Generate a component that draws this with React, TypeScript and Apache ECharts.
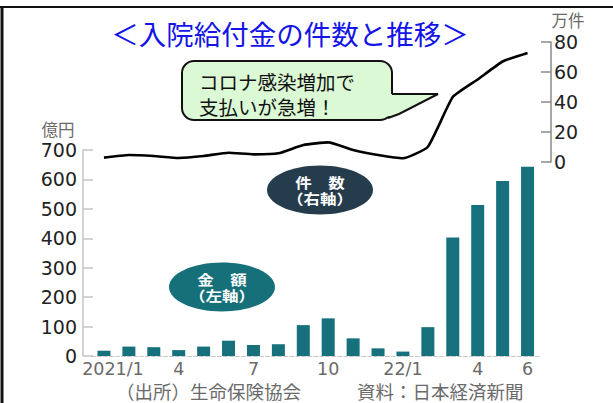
import React, { useEffect, useRef } from "react";
import * as echarts from "echarts";

const months = [
  "2021/1", "2021/2", "2021/3", "2021/4", "2021/5", "2021/6", "2021/7", "2021/8", "2021/9",
  "2021/10", "2021/11", "2021/12", "2022/1", "2022/2", "2022/3", "2022/4", "2022/5", "2022/6",
];
const tickLabels: Record<number, string> = { 0: "2021/1", 3: "4", 6: "7", 9: "10", 12: "22/1", 15: "4", 17: "6" };
const amounts = [18, 32, 30, 20, 32, 52, 37, 40, 105, 128, 60, 26, 15, 98, 403, 513, 595, 643];
const counts = [2.9, 4.7, 4.0, 2.7, 4.0, 6.2, 5.1, 5.8, 11.3, 13.1, 8.0, 4.7, 2.5, 10.2, 43.3, 55, 67, 72.7];

const CJK = '"Noto Sans CJK JP", "Noto Sans", sans-serif';
const NUM = '"DejaVu Sans", sans-serif';

function badge(cx: number, cy: number, fill: string, line1: string, line2: string) {
  return [
    { type: "ellipse", shape: { cx, cy, rx: 53, ry: 24.5 }, style: { fill } },
    {
      type: "text",
      x: cx,
      y: cy,
      scaleY: 0.85,
      style: {
        text: line1 + "\n" + line2,
        fontFamily: CJK,
        fontSize: 16.5,
        lineHeight: 19,
        fontWeight: "bold",
        fill: "#fff",
        align: "center",
        verticalAlign: "middle",
      },
    },
  ];
}

export default function App() {
  const ref = useRef<HTMLDivElement>(null);
  useEffect(() => {
    if (!ref.current) return;
    const chart = echarts.init(ref.current, undefined, { renderer: "svg" });
    const gridLeft = 91.5;
    const gridRight = 73;
    chart.setOption({
      animation: false,
      backgroundColor: "#ffffff",
      grid: [
        { left: gridLeft, right: gridRight, top: 150, bottom: 47 },
        { left: gridLeft, right: gridRight, top: 42, height: 120 },
      ],
      xAxis: [
        {
          type: "category",
          gridIndex: 0,
          data: months,
          boundaryGap: true,
          axisTick: { show: false },
          axisLine: { show: true, lineStyle: { color: "#c8c8c8", type: "dashed", width: 1 } },
          axisLabel: {
            interval: (i: number) => tickLabels[i] !== undefined,
            formatter: (_v: string, i: number) => (i === 0 ? "{first|" + tickLabels[i] + "}" : tickLabels[i] ?? ""),
            color: "#6a6a6a",
            fontFamily: NUM,
            fontSize: 17.5,
            lineHeight: 17,
            margin: 4,
            rich: { first: { padding: [0, 0, 0, 18], color: "#6a6a6a", fontFamily: NUM, fontSize: 17.5, lineHeight: 17 } },
          },
        },
        {
          type: "category",
          gridIndex: 1,
          data: months,
          boundaryGap: true,
          show: false,
        },
      ],
      yAxis: [
        {
          type: "value",
          gridIndex: 0,
          min: 0,
          max: 700,
          interval: 100,
          offset: 8.5,
          splitLine: { show: false },
          axisLine: { show: true, lineStyle: { color: "#c4c4c4", width: 1.5 } },
          axisTick: { show: true, inside: true, length: 10, lineStyle: { color: "#c4c4c4", width: 1.5 } },
          axisLabel: { color: "#222", fontFamily: NUM, fontSize: 19, margin: 6 },
        },
        {
          type: "value",
          gridIndex: 1,
          position: "right",
          min: 0,
          max: 80,
          interval: 20,
          offset: 11,
          splitLine: { show: false },
          axisLine: { show: true, lineStyle: { color: "#8a8a8a", width: 1.5 } },
          axisTick: { show: true, inside: true, length: 10, lineStyle: { color: "#8a8a8a", width: 1.5 } },
          axisLabel: { color: "#222", fontFamily: NUM, fontSize: 19, margin: 3 },
        },
      ],
      series: [
        {
          type: "bar",
          xAxisIndex: 0,
          yAxisIndex: 0,
          data: amounts,
          barWidth: 13,
          itemStyle: { color: "#16717c" },
        },
        {
          type: "line",
          xAxisIndex: 1,
          yAxisIndex: 1,
          data: counts,
          smooth: 0.15,
          showSymbol: false,
          symbol: "none",
          lineStyle: { color: "#000", width: 2.6 },
        },
      ],
      graphic: [
        { type: "line", shape: { x1: 0, y1: 7, x2: 613, y2: 7 }, style: { stroke: "#111", lineWidth: 2 } },
        { type: "line", shape: { x1: 2, y1: 7, x2: 2, y2: 403 }, style: { stroke: "#111", lineWidth: 3 } },
        {
          type: "text",
          x: 290,
          y: 33,
          style: {
            text: "＜入院給付金の件数と推移＞",
            fontFamily: CJK,
            fontSize: 27.5,
            fill: "#1414e6",
            align: "center",
            verticalAlign: "middle",
          },
        },
        {
          type: "rect",
          shape: { x: 182, y: 61, width: 210, height: 59, r: 12 },
          style: { fill: "#dcf9d6", stroke: "#111", lineWidth: 2 },
        },
        {
          type: "polygon",
          shape: { points: [[385, 94], [438, 94], [399, 114], [385, 117]] },
          style: { fill: "#dcf9d6", stroke: "none" },
        },
        {
          type: "polyline",
          shape: { points: [[392, 94], [438, 94], [399, 114], [388, 118]] },
          style: { fill: "none", stroke: "#111", lineWidth: 2 },
        },
        {
          type: "text",
          x: 199,
          y: 94,
          style: {
            text: "コロナ感染増加で\n支払いが急増！",
            fontFamily: CJK,
            fontSize: 19.5,
            lineHeight: 24.5,
            fill: "#111",
            verticalAlign: "middle",
          },
        },
        ...badge(320, 190, "#243c4c", "件　数", "（右軸）"),
        ...badge(222, 287, "#16707a", "金　額", "（左軸）"),
        {
          type: "text",
          x: 58,
          y: 129,
          style: { text: "億円", fontFamily: CJK, fontSize: 16.5, fill: "#6a6a6a", align: "center", verticalAlign: "middle" },
        },
        {
          type: "text",
          x: 568,
          y: 20,
          style: { text: "万件", fontFamily: CJK, fontSize: 16.5, fill: "#6a6a6a", align: "center", verticalAlign: "middle" },
        },
        {
          type: "text",
          x: 116,
          y: 390.5,
          style: { text: "（出所）生命保険協会", fontFamily: CJK, fontSize: 18.5, lineHeight: 19, fill: "#6a6a6a", verticalAlign: "middle" },
        },
        {
          type: "text",
          x: 357,
          y: 390.5,
          style: { text: "資料：日本経済新聞", fontFamily: CJK, fontSize: 18.5, lineHeight: 19, fill: "#6a6a6a", verticalAlign: "middle" },
        },
      ],
    });
    return () => chart.dispose();
  }, []);
  return (
    <div
      ref={ref}
      style={{ position: "fixed", left: 0, top: 0, width: 613, height: 403 }}
    />
  );
}
